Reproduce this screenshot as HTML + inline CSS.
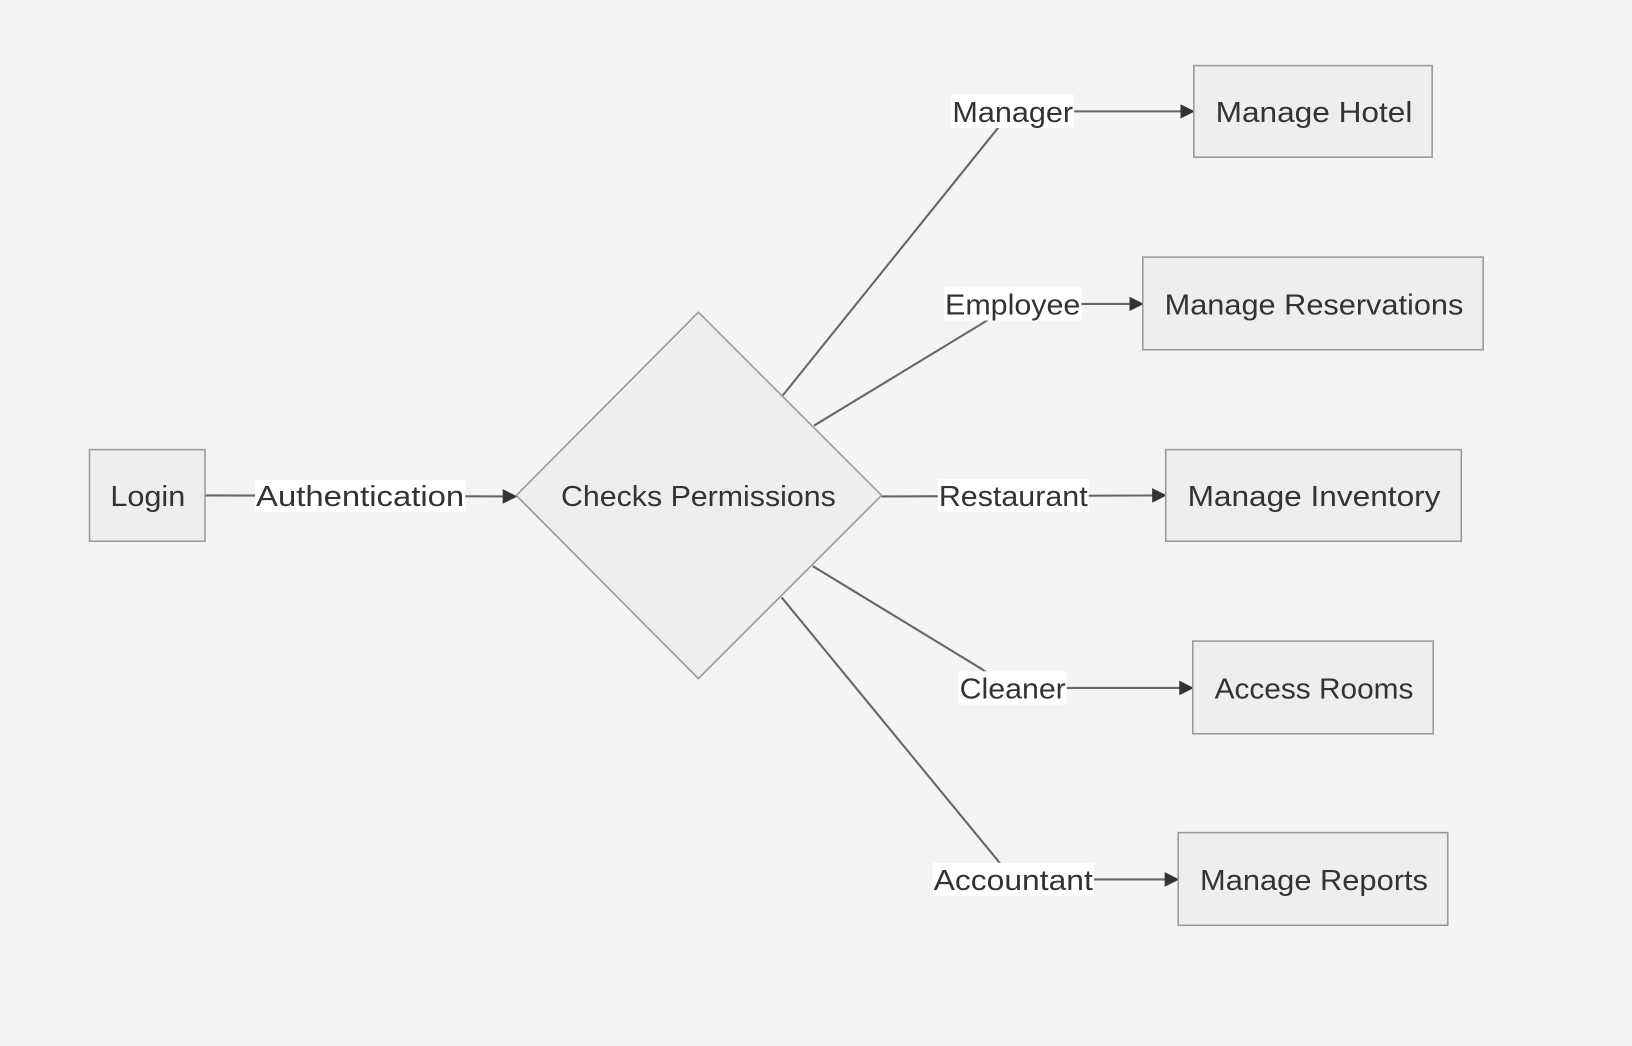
<!DOCTYPE html>
<html><head><meta charset="utf-8"><style>
html,body{margin:0;padding:0;background:#f4f4f4;}
svg{display:block}
text{font-family:"Liberation Sans",sans-serif;fill:#333;font-size:28px;}
</style></head><body>
<svg width="1632" height="1046" viewBox="0 0 1568 1005" xmlns="http://www.w3.org/2000/svg">
<defs><marker id="a" markerWidth="14" markerHeight="14" refX="13" refY="7" orient="auto" markerUnits="userSpaceOnUse"><path d="M0,0 L14,7 L0,14 z" fill="#333"/></marker></defs>
<rect width="1568" height="1005" fill="#f4f4f4"/>
<g fill="none" stroke="#666" stroke-width="2">
<path d="M197,476 L496,477" marker-end="url(#a)"/>
<path d="M752,380 L958,124 Q972,107 990,107 L1147,107" marker-end="url(#a)"/>
<path d="M782,409 L945,310 Q970,292 995,292 L1098,292" marker-end="url(#a)"/>
<path d="M847,477 L1120,476" marker-end="url(#a)"/>
<path d="M781,544 L942,642 Q968,661 995,661 L1146,661" marker-end="url(#a)"/>
<path d="M751,574 L958,826 Q972,845 990,845 L1132,845" marker-end="url(#a)"/>
</g>
<g fill="#eee" stroke="#999" stroke-width="1.5">
<rect x="86" y="432" width="111" height="88"/>
<polygon points="496,476 671,300 847,476 671,652"/>
<rect x="1147" y="63" width="229" height="88"/>
<rect x="1098" y="247" width="327" height="89"/>
<rect x="1120" y="432" width="284" height="88"/>
<rect x="1146" y="616" width="231" height="89"/>
<rect x="1132" y="800" width="259" height="89"/>
</g>
<g fill="#fff">
<rect x="245" y="461" width="202" height="31"/>
<rect x="914" y="91" width="118" height="32"/>
<rect x="907" y="276" width="132" height="32"/>
<rect x="901" y="460" width="145" height="32"/>
<rect x="921" y="645" width="104" height="32"/>
<rect x="896" y="829" width="155" height="32"/>
</g>
<text x="106" y="486" textLength="72" lengthAdjust="spacingAndGlyphs">Login</text>
<text x="539" y="486" textLength="264" lengthAdjust="spacingAndGlyphs">Checks Permissions</text>
<text x="1168" y="117" textLength="189" lengthAdjust="spacingAndGlyphs">Manage Hotel</text>
<text x="1119" y="302" textLength="287" lengthAdjust="spacingAndGlyphs">Manage Reservations</text>
<text x="1141" y="486" textLength="243" lengthAdjust="spacingAndGlyphs">Manage Inventory</text>
<text x="1167" y="671" textLength="191" lengthAdjust="spacingAndGlyphs">Access Rooms</text>
<text x="1153" y="855" textLength="219" lengthAdjust="spacingAndGlyphs">Manage Reports</text>
<text x="246" y="486" textLength="200" lengthAdjust="spacingAndGlyphs">Authentication</text>
<text x="915" y="117" textLength="116" lengthAdjust="spacingAndGlyphs">Manager</text>
<text x="908" y="302" textLength="130" lengthAdjust="spacingAndGlyphs">Employee</text>
<text x="902" y="486" textLength="143" lengthAdjust="spacingAndGlyphs">Restaurant</text>
<text x="922" y="671" textLength="102" lengthAdjust="spacingAndGlyphs">Cleaner</text>
<text x="897" y="855" textLength="153" lengthAdjust="spacingAndGlyphs">Accountant</text>
</svg>
</body></html>
